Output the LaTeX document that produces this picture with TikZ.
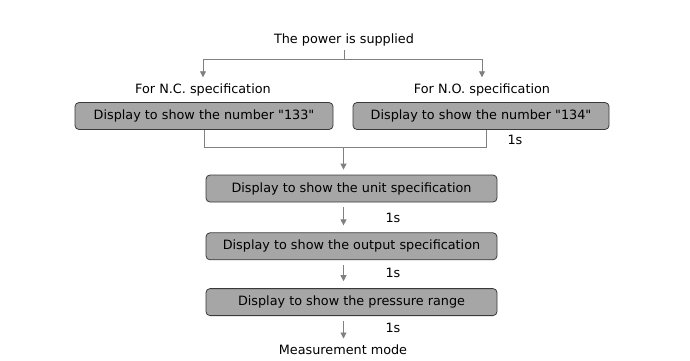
\documentclass[tikz,border=0pt]{standalone}
\usepackage{fontspec}
\setmainfont{DejaVu Sans}
\usepackage{xcolor}
\usetikzlibrary{arrows.meta,positioning}
\definecolor{boxgray}{HTML}{A6A6A6}
\definecolor{edgegray}{HTML}{3A3A3A}
\definecolor{linegray}{HTML}{808080}
\tikzset{
  dispbox/.style={rectangle, draw=edgegray, fill=boxgray, rounded corners=4pt, line width=0.8pt, align=center, minimum height=27pt, inner sep=0pt},
  txt/.style={align=center},
  wire/.style={linegray, line width=0.9pt},
  flow/.style={-{Triangle[width=6pt,length=6pt]}, linegray, line width=0.9pt}
}

\begin{document}
\begin{tikzpicture}[x=1pt, y=-1pt, font=\fontsize{12.8}{15}\selectfont]
  \useasboundingbox (0,0) rectangle (690,360);
  \node[txt] (power) at (344,40) {The power is supplied};
  \node[txt] (nclabel) at (203,90) {For N.C. specification};
  \node[txt] (nolabel) at (482,90) {For N.O. specification};
  \node[dispbox, minimum width=258pt] (num133) at (204,116) {Display to show the number \textquotedbl133\textquotedbl};
  \node[dispbox, minimum width=256pt] (num134) at (481,116) {Display to show the number \textquotedbl134\textquotedbl};
  \node[dispbox, minimum width=291pt] (unit) at (351.5,188.5) {Display to show the unit specification};
  \node[dispbox, minimum width=291pt, below=30pt of unit] (output) {Display to show the output specification};
  \node[dispbox, minimum width=291pt, below=28pt of output] (range) {Display to show the pressure range};
  \node[txt] (measure) at (343,350) {Measurement mode};
  \node[txt] (wait1) at (515,140) {1s};
  \node[txt] (wait2) at (393,218) {1s};
  \node[txt] (wait3) at (393,273) {1s};
  \node[txt] (wait4) at (393,328) {1s};
  \coordinate (split) at (344,59);
  \coordinate (join) at (343.5,147);
  % branch to the two specifications
  \draw[wire] (power) -- (split);
  \draw[flow, shorten >=3pt] (split) -| (nclabel.north);
  \draw[flow, shorten >=3pt] (split) -| (nolabel.north);
  \draw[wire] (num133.south) |- (join);
  \draw[wire] ([xshift=5pt]num134.south) |- (join);
  % main sequence
  \draw[flow, shorten >=5pt] (join) -- (join |- unit.north);
  \draw[flow, shorten <=5pt, shorten >=7pt] (unit.south -| join) -- (output.north -| join);
  \draw[flow, shorten <=5pt, shorten >=7pt] (output.south -| join) -- (range.north -| join);
  \draw[flow, shorten <=5pt, shorten >=3pt] (range.south -| join) -- (measure.north -| join);
\end{tikzpicture}
\end{document}
